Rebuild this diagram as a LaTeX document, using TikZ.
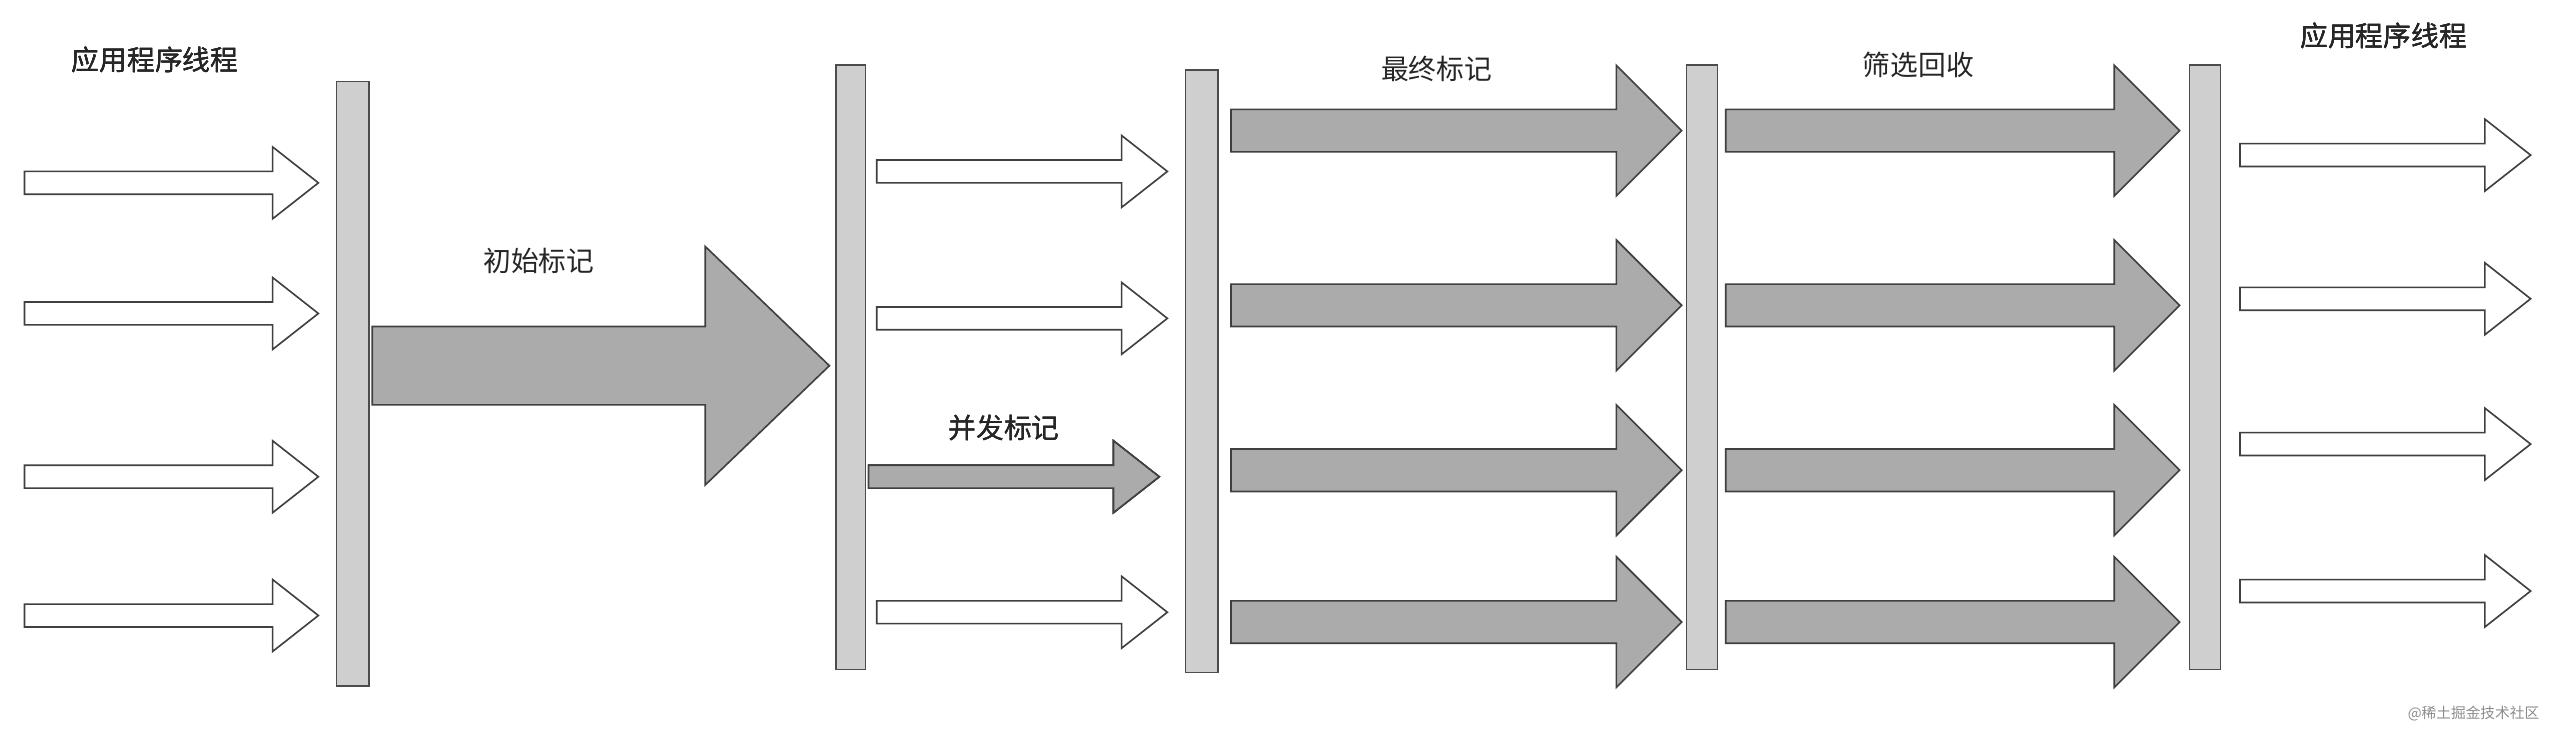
\documentclass[tikz,border=0pt]{standalone}
\usepackage{fontspec}
\newfontfamily\cjk{Noto Sans CJK SC}
\definecolor{barfill}{HTML}{CFCFCF}
\definecolor{arrfill}{HTML}{ABABAB}
\tikzset{
  bar/.style={draw=black!70, fill=barfill, line width=1pt},
  hollow/.style={draw=black!75, fill=white, line width=1pt},
  solid/.style={draw=black!75, fill=arrfill, line width=1pt},
  label/.style={font=\cjk\fontsize{17}{20}\selectfont, text=black!85},
}
% #1 style, #2 x start, #3 x end, #4 y, #5 shaft half, #6 head half, #7 head length
\newcommand{\blockarrow}[7]{
  \draw[#1] (#2,#4-#5) -- (#3-#7,#4-#5) -- (#3-#7,#4-#6) -- (#3,#4)
    -- (#3-#7,#4+#6) -- (#3-#7,#4+#5) -- (#2,#4+#5) -- cycle;
}
\begin{document}
\begin{tikzpicture}[x=1pt,y=-1pt]
    \useasboundingbox (0,0) rectangle (1568,447);
    % threads before the pause
    \foreach \y in {112,192,292,377}
        \blockarrow{hollow}{15}{195}{\y}{7}{22}{28}
    \node[label] (app1) at (95,37) {应用程序线程};
    % initial mark
    \blockarrow{solid}{228}{508}{224}{24}{73}{76}
    \node[label] (init) at (330,160) {初始标记};
    % concurrent mark
    \foreach \y in {105,195,375}
        \blockarrow{hollow}{537}{715}{\y}{7}{22}{28}
    \blockarrow{solid}{532}{710}{292}{7}{22}{28}
    \node[label] (conc) at (615,262) {并发标记};
    % final mark and cleanup
    \foreach \y in {80,187,288,381} {
        \blockarrow{solid}{754}{1030}{\y}{13}{40}{40}
        \blockarrow{solid}{1057}{1335}{\y}{13}{40}{40}
    }
    \node[label] (final) at (880,42) {最终标记};
    \node[label] (clean) at (1175,40) {筛选回收};
    % threads after
    \foreach \y in {95,183,272,362}
        \blockarrow{hollow}{1372}{1550}{\y}{7}{22}{28}
    \node[label] (app2) at (1460,22) {应用程序线程};
    % safepoint bars
    \draw[bar] (206,50) rectangle (226,420);
    \draw[bar] (512,40) rectangle (530,410);
    \draw[bar] (726,43) rectangle (746,412);
    \draw[bar] (1033,40) rectangle (1052,410);
    \draw[bar] (1341,40) rectangle (1360,410);
    \node[font=\cjk\fontsize{9}{10}\selectfont, text=black!45] (mark) at (1515,437) {@稀土掘金技术社区};
\end{tikzpicture}
\end{document}
